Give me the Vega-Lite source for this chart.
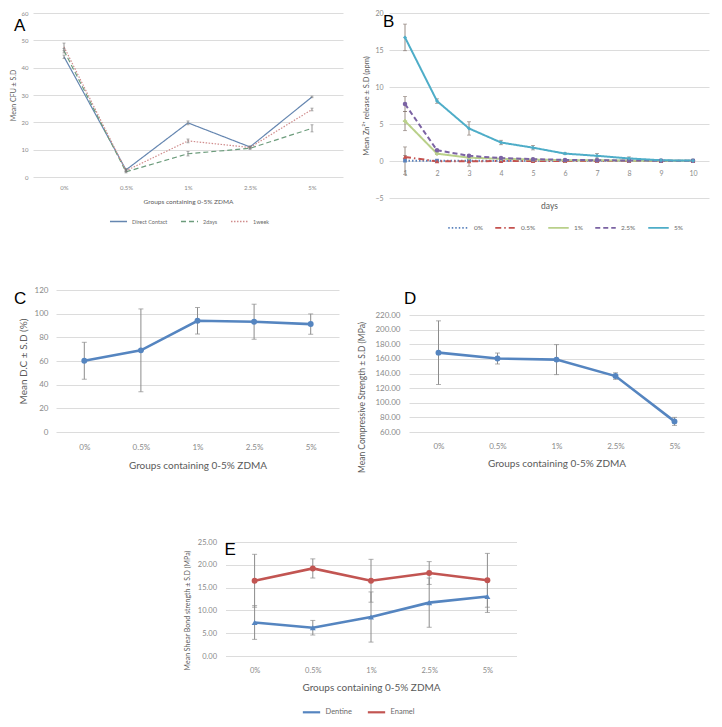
{
  "$schema": "https://vega.github.io/schema/vega-lite/v6.json",
  "background": "white",
  "padding": {"left": 9, "top": 9, "right": 8, "bottom": 6},
  "config": {
    "font": "Lato",
    "view": {"stroke": null},
    "axis": {"domain": false, "ticks": false, "gridColor": "#dcdcdc", "labelColor": "#8a8a8a", "titleColor": "#5a5a5a", "titleFontWeight": "normal", "labelFont": "Lato", "titleFont": "Lato"},
    "axisX": {"grid": false, "labelAngle": 0},
    "title": {"fontSize": 17, "font": "Liberation Sans", "fontWeight": "normal", "color": "#000000", "anchor": "start", "frame": "group", "offset": 0, "baseline": "top"},
    "legend": {"orient": "none", "direction": "horizontal", "title": null, "symbolType": "stroke", "labelColor": "#6a6a6a", "labelFont": "Lato"}
  },
  "resolve": {"scale": {"color": "independent", "strokeDash": "independent"}, "legend": {"color": "independent", "strokeDash": "independent"}},
  "center": true,
  "spacing": 65,
  "vconcat": [
    {
      "spacing": 54,
      "resolve": {"scale": {"color": "independent", "strokeDash": "independent"}, "legend": {"color": "independent", "strokeDash": "independent"}},
      "vconcat": [
        {
          "spacing": 19,
          "resolve": {"scale": {"color": "independent", "strokeDash": "independent"}, "legend": {"color": "independent", "strokeDash": "independent"}},
          "hconcat": [
            {
              "width": 310,
              "height": 164,
              "title": {"text": "A", "dx": -19, "dy": 29},
              "data": {"values": [
                {"series": "Direct Contact", "group": "0%", "mean": 44.0, "sd": 0.6},
                {"series": "Direct Contact", "group": "0.5%", "mean": 2.6, "sd": 0.5},
                {"series": "Direct Contact", "group": "1%", "mean": 19.8, "sd": 0.7},
                {"series": "Direct Contact", "group": "2.5%", "mean": 11.0, "sd": 0.4},
                {"series": "Direct Contact", "group": "5%", "mean": 29.3, "sd": 0.3},
                {"series": "2days", "group": "0%", "mean": 46.2, "sd": 0.8},
                {"series": "2days", "group": "0.5%", "mean": 1.9, "sd": 0.4},
                {"series": "2days", "group": "1%", "mean": 8.5, "sd": 0.8},
                {"series": "2days", "group": "2.5%", "mean": 10.5, "sd": 0.4},
                {"series": "2days", "group": "5%", "mean": 17.8, "sd": 1.3},
                {"series": "1week", "group": "0%", "mean": 47.6, "sd": 1.4},
                {"series": "1week", "group": "0.5%", "mean": 2.3, "sd": 0.4},
                {"series": "1week", "group": "1%", "mean": 13.2, "sd": 0.7},
                {"series": "1week", "group": "2.5%", "mean": 10.8, "sd": 0.4},
                {"series": "1week", "group": "5%", "mean": 24.7, "sd": 0.5}
              ]},
              "encoding": {
                "x": {"field": "group", "type": "ordinal", "sort": ["0%", "0.5%", "1%", "2.5%", "5%"], "scale": {"type": "point", "padding": 0.5}, "axis": {"title": "Groups containing 0-5% ZDMA", "labelFontSize": 6, "titleFontSize": 6.5, "labelPadding": 7, "titlePadding": 8}},
                "y": {"field": "mean", "type": "quantitative", "scale": {"domain": [0, 60], "nice": false}, "axis": {"title": "Mean CFU ± S.D", "values": [0, 10, 20, 30, 40, 50, 60], "labelFontSize": 6, "titleFontSize": 7, "labelPadding": 5, "titlePadding": 5}}
              },
              "layer": [
                {
                  "mark": {"type": "line", "strokeWidth": 1.2},
                  "encoding": {
                    "color": {"field": "series", "type": "nominal", "scale": {"domain": ["Direct Contact", "2days", "1week"], "range": ["#6586b0", "#6c9c7c", "#d08c8c"]}, "legend": {"legendX": 76, "legendY": 199, "labelFontSize": 5.5, "symbolType": "stroke", "symbolSize": 290, "symbolStrokeWidth": 1.3, "columnPadding": 10}},
                    "strokeDash": {"field": "series", "type": "nominal", "scale": {"domain": ["Direct Contact", "2days", "1week"], "range": [[1, 0], [5, 3], [1.5, 1.5]]}}
                  }
                },
                {
                  "mark": {"type": "errorbar", "ticks": {"size": 3}, "color": "#7a7a7a", "thickness": 0.8},
                  "encoding": {"yError": {"field": "sd"}, "detail": {"field": "series"}}
                }
              ]
            },
            {
              "width": 320,
              "height": 185,
              "title": {"text": "B", "dx": -6, "dy": 26},
              "data": {"values": [
                {"series": "0%", "day": 1, "mean": 0.05, "sd": 1.85},
                {"series": "0%", "day": 2, "mean": 0.05, "sd": 0.05},
                {"series": "0%", "day": 3, "mean": 0.02, "sd": 0.05},
                {"series": "0%", "day": 4, "mean": 0.05, "sd": 0.05},
                {"series": "0%", "day": 5, "mean": 0.05, "sd": 0.05},
                {"series": "0%", "day": 6, "mean": 0.05, "sd": 0.05},
                {"series": "0%", "day": 7, "mean": 0.05, "sd": 0.05},
                {"series": "0%", "day": 8, "mean": 0.05, "sd": 0.05},
                {"series": "0%", "day": 9, "mean": 0.05, "sd": 0.05},
                {"series": "0%", "day": 10, "mean": 0.05, "sd": 0.05},
                {"series": "0.5%", "day": 1, "mean": 0.55, "sd": 0.2},
                {"series": "0.5%", "day": 2, "mean": -0.05, "sd": 0.1},
                {"series": "0.5%", "day": 3, "mean": -0.05, "sd": 0.65},
                {"series": "0.5%", "day": 4, "mean": 0.0, "sd": 0.1},
                {"series": "0.5%", "day": 5, "mean": 0.0, "sd": 0.05},
                {"series": "0.5%", "day": 6, "mean": 0.0, "sd": 0.05},
                {"series": "0.5%", "day": 7, "mean": 0.0, "sd": 0.05},
                {"series": "0.5%", "day": 8, "mean": 0.0, "sd": 0.05},
                {"series": "0.5%", "day": 9, "mean": 0.0, "sd": 0.05},
                {"series": "0.5%", "day": 10, "mean": 0.0, "sd": 0.05},
                {"series": "1%", "day": 1, "mean": 5.4, "sd": 1.3},
                {"series": "1%", "day": 2, "mean": 1.0, "sd": 0.1},
                {"series": "1%", "day": 3, "mean": 0.45, "sd": 0.05},
                {"series": "1%", "day": 4, "mean": 0.3, "sd": 0.05},
                {"series": "1%", "day": 5, "mean": 0.2, "sd": 0.05},
                {"series": "1%", "day": 6, "mean": 0.1, "sd": 0.05},
                {"series": "1%", "day": 7, "mean": 0.1, "sd": 0.05},
                {"series": "1%", "day": 8, "mean": 0.05, "sd": 0.05},
                {"series": "1%", "day": 9, "mean": 0.03, "sd": 0.05},
                {"series": "1%", "day": 10, "mean": 0.02, "sd": 0.05},
                {"series": "2.5%", "day": 1, "mean": 7.7, "sd": 1.0},
                {"series": "2.5%", "day": 2, "mean": 1.45, "sd": 0.1},
                {"series": "2.5%", "day": 3, "mean": 0.7, "sd": 0.1},
                {"series": "2.5%", "day": 4, "mean": 0.4, "sd": 0.05},
                {"series": "2.5%", "day": 5, "mean": 0.25, "sd": 0.05},
                {"series": "2.5%", "day": 6, "mean": 0.15, "sd": 0.05},
                {"series": "2.5%", "day": 7, "mean": 0.1, "sd": 0.05},
                {"series": "2.5%", "day": 8, "mean": 0.07, "sd": 0.05},
                {"series": "2.5%", "day": 9, "mean": 0.04, "sd": 0.05},
                {"series": "2.5%", "day": 10, "mean": 0.02, "sd": 0.05},
                {"series": "5%", "day": 1, "mean": 16.7, "sd": 1.8},
                {"series": "5%", "day": 2, "mean": 8.1, "sd": 0.3},
                {"series": "5%", "day": 3, "mean": 4.4, "sd": 0.9},
                {"series": "5%", "day": 4, "mean": 2.5, "sd": 0.3},
                {"series": "5%", "day": 5, "mean": 1.8, "sd": 0.3},
                {"series": "5%", "day": 6, "mean": 1.0, "sd": 0.1},
                {"series": "5%", "day": 7, "mean": 0.7, "sd": 0.3},
                {"series": "5%", "day": 8, "mean": 0.35, "sd": 0.2},
                {"series": "5%", "day": 9, "mean": 0.1, "sd": 0.1},
                {"series": "5%", "day": 10, "mean": 0.05, "sd": 0.1}
              ]},
              "encoding": {
                "x": {"field": "day", "type": "ordinal", "scale": {"type": "point", "padding": 0.5}, "axis": {"title": "days", "offset": -37, "labelFontSize": 7, "titleFontSize": 8.5, "labelPadding": 8, "titlePadding": 25}},
                "y": {"field": "mean", "type": "quantitative", "scale": {"domain": [-5, 20], "nice": false}, "axis": {"title": "Mean Zn²⁺ release ± S.D (ppm)", "values": [-5, 0, 5, 10, 15, 20], "labelFontSize": 7, "titleFontSize": 7.5, "labelPadding": 6, "titlePadding": 4}},
                "color": {"field": "series", "type": "nominal", "scale": {"domain": ["0%", "0.5%", "1%", "2.5%", "5%"], "range": ["#5b83bd", "#c4524f", "#b9d08a", "#7b63a3", "#4eadc8"]}, "legend": null}
              },
              "layer": [
                {
                  "mark": {"type": "errorbar", "ticks": {"size": 4}, "color": "#7d6e66", "thickness": 0.8},
                  "encoding": {"yError": {"field": "sd"}, "detail": {"field": "series"}, "color": {"value": "#7d6e66"}}
                },
                {
                  "mark": {"type": "line", "strokeWidth": 2},
                  "encoding": {
                    "color": {"field": "series", "type": "nominal", "legend": {"legendX": 58, "legendY": 203, "labelFontSize": 6.5, "symbolType": "stroke", "symbolSize": 420, "symbolStrokeWidth": 1.8, "columnPadding": 8}},
                    "strokeDash": {"field": "series", "type": "nominal", "scale": {"domain": ["0%", "0.5%", "1%", "2.5%", "5%"], "range": [[1.5, 2], [6, 3, 1.5, 3], [1, 0], [5, 3], [1, 0]]}}
                  }
                },
                {"transform": [{"filter": {"field": "series", "equal": "0%"}}], "mark": {"type": "point", "shape": "square", "filled": true, "size": 14, "opacity": 1}},
                {"transform": [{"filter": {"field": "series", "equal": "0.5%"}}], "mark": {"type": "point", "shape": "triangle-up", "filled": true, "size": 20, "opacity": 1}},
                {"transform": [{"filter": {"field": "series", "equal": "1%"}}], "mark": {"type": "point", "shape": "cross", "filled": true, "size": 18, "opacity": 1}},
                {"transform": [{"filter": {"field": "series", "equal": "2.5%"}}], "mark": {"type": "point", "shape": "circle", "filled": true, "size": 20, "opacity": 1}},
                {"transform": [{"filter": {"field": "series", "equal": "5%"}}], "mark": {"type": "point", "shape": "diamond", "filled": true, "size": 16, "opacity": 1}}
              ]
            }
          ]
        },
        {
          "spacing": 18,
          "hconcat": [
            {
              "width": 306,
              "height": 142,
              "title": {"text": "C", "dx": -19, "dy": 26},
              "data": {"values": [
                {"group": "0%", "mean": 60.2, "sd": 15.6},
                {"group": "0.5%", "mean": 69.0, "sd": 35.0},
                {"group": "1%", "mean": 94.0, "sd": 11.2},
                {"group": "2.5%", "mean": 93.2, "sd": 14.8},
                {"group": "5%", "mean": 91.2, "sd": 8.6}
              ]},
              "encoding": {
                "x": {"field": "group", "type": "ordinal", "sort": ["0%", "0.5%", "1%", "2.5%", "5%"], "scale": {"type": "point", "padding": 0.5, "range": [23, 306]}, "axis": {"title": "Groups containing 0-5% ZDMA", "labelFontSize": 8, "titleFontSize": 10, "labelPadding": 11, "titlePadding": 9, "titleX": 164.5}},
                "y": {"field": "mean", "type": "quantitative", "scale": {"domain": [0, 120], "nice": false}, "axis": {"title": "Mean D.C ± S.D (%)", "values": [0, 20, 40, 60, 80, 100, 120], "offset": -23, "labelFontSize": 8, "titleFontSize": 10, "labelPadding": 8, "titlePadding": 6}}
              },
              "layer": [
                {"mark": {"type": "errorbar", "ticks": {"size": 5}, "color": "#8c8c8c", "thickness": 1}, "encoding": {"yError": {"field": "sd"}}},
                {"mark": {"type": "line", "color": "#5585c0", "strokeWidth": 2.6, "point": {"filled": true, "size": 35, "color": "#5585c0"}}}
              ]
            },
            {
              "width": 295,
              "height": 142,
              "title": {"text": "D", "dx": -5, "dy": 22},
              "data": {"values": [
                {"group": "0%", "mean": 168.5, "sd": 43.5},
                {"group": "0.5%", "mean": 160.5, "sd": 7.5},
                {"group": "1%", "mean": 159.0, "sd": 20.5},
                {"group": "2.5%", "mean": 136.5, "sd": 4.5},
                {"group": "5%", "mean": 74.5, "sd": 5.5}
              ]},
              "encoding": {
                "x": {"field": "group", "type": "ordinal", "sort": ["0%", "0.5%", "1%", "2.5%", "5%"], "scale": {"type": "point", "padding": 0.5}, "axis": {"title": "Groups containing 0-5% ZDMA", "labelFontSize": 8, "titleFontSize": 10, "labelPadding": 10, "titlePadding": 8}},
                "y": {"field": "mean", "type": "quantitative", "scale": {"domain": [60, 254.2], "nice": false}, "axis": {"title": "Mean Compressive Strength ± S.D (MPa)", "values": [60, 80, 100, 120, 140, 160, 180, 200, 220], "format": ".2f", "labelFontSize": 8, "titleFontSize": 8.5, "labelPadding": 9, "titlePadding": 8, "titleY": 107}}
              },
              "layer": [
                {"mark": {"type": "errorbar", "ticks": {"size": 5}, "color": "#8c8c8c", "thickness": 1}, "encoding": {"yError": {"field": "sd"}}},
                {"mark": {"type": "line", "color": "#5585c0", "strokeWidth": 2.6, "point": {"filled": true, "size": 35, "color": "#5585c0"}}}
              ]
            }
          ]
        }
      ]
    },
    {
      "width": 291,
      "height": 114,
      "title": {"text": "E", "dx": -1, "dy": 25},
      "data": {"values": [
        {"series": "Dentine", "group": "0%", "mean": 7.35, "sd": 3.7},
        {"series": "Dentine", "group": "0.5%", "mean": 6.2, "sd": 1.6},
        {"series": "Dentine", "group": "1%", "mean": 8.55, "sd": 5.5},
        {"series": "Dentine", "group": "2.5%", "mean": 11.7, "sd": 5.4},
        {"series": "Dentine", "group": "5%", "mean": 13.05, "sd": 3.5},
        {"series": "Enamel", "group": "0%", "mean": 16.5, "sd": 5.8},
        {"series": "Enamel", "group": "0.5%", "mean": 19.2, "sd": 2.1},
        {"series": "Enamel", "group": "1%", "mean": 16.5, "sd": 4.7},
        {"series": "Enamel", "group": "2.5%", "mean": 18.2, "sd": 2.5},
        {"series": "Enamel", "group": "5%", "mean": 16.6, "sd": 5.9}
      ]},
      "encoding": {
        "x": {"field": "group", "type": "ordinal", "sort": ["0%", "0.5%", "1%", "2.5%", "5%"], "scale": {"type": "point", "padding": 0.5}, "axis": {"title": "Groups containing 0-5% ZDMA", "labelFontSize": 7.5, "titleFontSize": 10, "labelPadding": 10, "titlePadding": 9}},
        "y": {"field": "mean", "type": "quantitative", "scale": {"domain": [0, 25], "nice": false}, "axis": {"title": "Mean Shear Bond strength ± S.D (MPa)", "values": [0, 5, 10, 15, 20, 25], "format": ".2f", "labelFontSize": 7.5, "titleFontSize": 7, "labelPadding": 9, "titlePadding": 7, "titleY": 68}},
        "color": {"field": "series", "type": "nominal", "scale": {"domain": ["Dentine", "Enamel"], "range": ["#5585c0", "#c25552"]}, "legend": null}
      },
      "layer": [
        {"mark": {"type": "errorbar", "ticks": {"size": 5}, "color": "#8c8c8c", "thickness": 1}, "encoding": {"yError": {"field": "sd"}, "detail": {"field": "series"}, "color": {"value": "#8c8c8c"}}},
        {
          "mark": {"type": "line", "strokeWidth": 2.6},
          "encoding": {
            "color": {"field": "series", "type": "nominal", "legend": {"legendX": 76, "legendY": 160, "labelFontSize": 7.5, "symbolType": "stroke", "symbolSize": 300, "symbolStrokeWidth": 2.2, "columnPadding": 10}}
          }
        },
        {"transform": [{"filter": {"field": "series", "equal": "Dentine"}}], "mark": {"type": "point", "shape": "triangle-up", "filled": true, "size": 35, "opacity": 1}},
        {"transform": [{"filter": {"field": "series", "equal": "Enamel"}}], "mark": {"type": "point", "shape": "circle", "filled": true, "size": 35, "opacity": 1}}
      ]
    }
  ]
}
